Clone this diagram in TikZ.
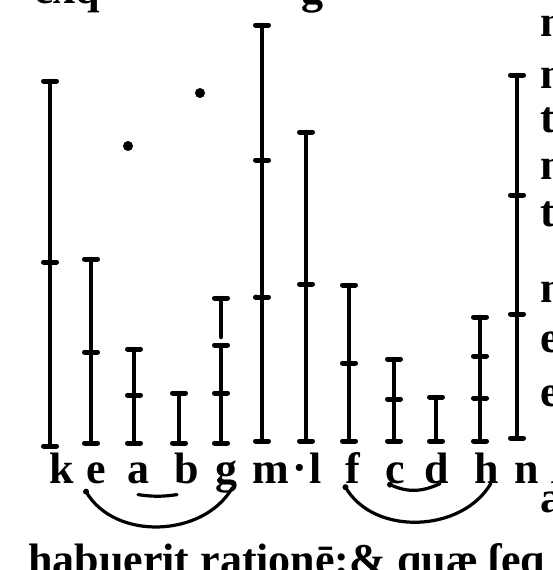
\documentclass[tikz,border=0pt]{standalone}
\usepackage{fontspec}
\setmainfont{Liberation Serif}
\tikzset{
	txt/.style={font=\bfseries\fontsize{44}{50}\selectfont, inner sep=0pt, anchor=base},
	barline/.style={line width=4.5},
	crossbar/.style={line width=5},
	arcline/.style={line width=3.2}
}
\begin{document}
\begin{tikzpicture}[line cap=round,line join=round,x=1pt,y=-1pt]
	\useasboundingbox (0,0) rectangle (553,570);
	\clip (0,0) rectangle (553,570);
	\def\hw{6.5};
	
	% the twelve lines
	\foreach \x/\t/\b in {50/81/446, 91/259/443, 134/349/443, 179/393/443, 221/345/443, 262/25/441, 306/132/441, 349/285/441, 394/359/441, 436/397/441, 480/317/441, 517/75/438}
	{
		\draw[barline] (\x,\t) -- (\x,\b);
		\draw[crossbar] (\x-\hw,\t) -- (\x+\hw,\t);
		\draw[crossbar] (\x-\hw,\b) -- (\x+\hw,\b);
	}
	\draw[barline] (221,298) -- (221,337);
	\draw[crossbar] (221-\hw,298) -- (221+\hw,298);
	
	% the points of division
	\foreach \x/\y in {50/262, 91/352, 134/395, 221/393, 262/160, 262/297, 306/284, 349/363, 394/399, 480/356, 480/398, 517/195, 517/314}
	{
		\draw[crossbar] (\x-\hw,\y) -- (\x+\hw,\y);
	}
	\fill (128,146) circle (5);
	\fill (200,93) circle (5);
	\fill (256,297) circle (2.5);
	
	% letters
	\node[txt] (k) at (62,483) {k};
	\node[txt] (e) at (96,483) {e};
	\node[txt] (a) at (138,483) {a};
	\node[txt] (b) at (187,483) {b};
	\node[txt] (g) at (226,483) {g};
	\node[txt] (m) at (271,483) {m};
	\node[txt] (pt) at (300,482) {·};
	\node[txt] (l) at (316,483) {l};
	\node[txt] (f) at (353,483) {f};
	\node[txt] (c) at (395,483) {c};
	\node[txt] (d) at (437,483) {d};
	\node[txt] (h) at (487,483) {h};
	\node[txt] (n) at (527,483) {n};
	\node[txt,anchor=base west] (s) at (551,483) {ſ};
	
	\draw[arcline] ([yshift=-8pt]e.south west) to[out=-60,in=-120] ([xshift=-5pt,yshift=5pt]g.south east);
	\fill ([yshift=-8pt]e.south west) circle (3);
	\draw[arcline] ([yshift=-4pt]f.south west) to[out=-60,in=-120] ([xshift=4pt]h.south);
	\fill ([yshift=-4pt]f.south west) circle (3);
	\draw[arcline] ([xshift=-5pt,yshift=-1pt]c.south) to[out=-25,in=-155] ([xshift=3pt]d.south);
	\fill ([xshift=-5pt,yshift=-1pt]c.south) circle (3);
	\draw[arcline] ([yshift=-11pt]a.south) to[bend right=8] ([xshift=-10pt,yshift=-11pt]b.south);
	
	% text of the page
	\node[txt,anchor=base west] (top) at (34,3) {exq};
	\node[txt] (topg) at (312,3) {g};
	\foreach \y/\t in {36/n, 88/n, 132/t, 179/n, 226/t, 302/n, 352/e, 406/e, 512/a}
	{
		\node[txt,anchor=base west] (r\y) at (540,\y) {\t};
	}
	\node[txt,anchor=base west] (foot) at (28,574) {habuerit rationē:\& quæ ſeq};
	
\end{tikzpicture}
\end{document}
